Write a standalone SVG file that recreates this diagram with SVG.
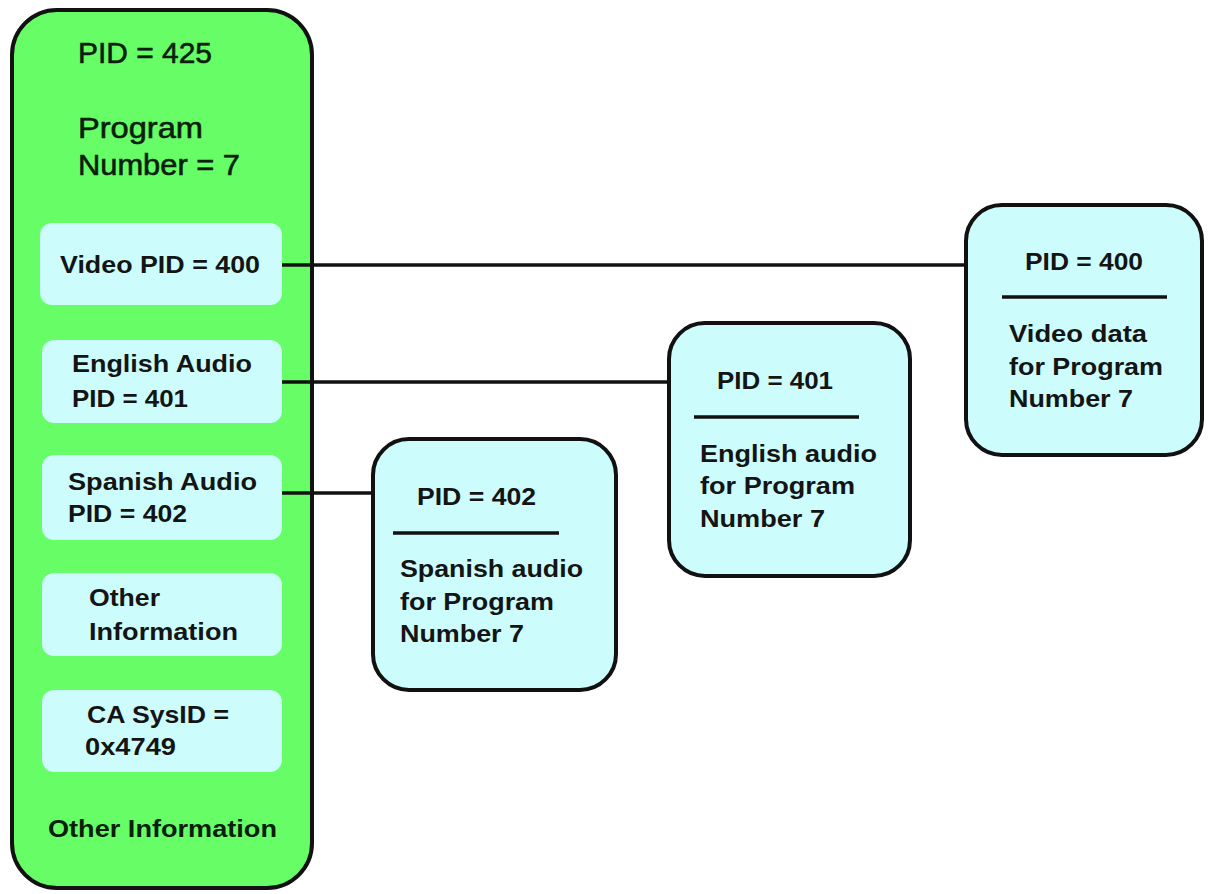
<svg xmlns="http://www.w3.org/2000/svg" width="1209" height="894" viewBox="0 0 1209 894">
<style>
.t{font-family:"Liberation Sans",Arial,sans-serif;fill:#141414}
.r{font-size:30px;font-weight:normal;fill:#0c1e0c;stroke:#0c1e0c;stroke-width:0.6}
.b{font-size:24px;font-weight:bold}
.cell{fill:#ccfdfc;stroke:none}
.box{fill:#ccfdfc;stroke:#111;stroke-width:4}
.rule{stroke:#111;stroke-width:3.5}
.conn{stroke:#111;stroke-width:3.5;fill:none}
</style>
<rect width="1209" height="894" fill="#ffffff"/>
<g id="pmt">
<rect x="12" y="10" width="300" height="878" rx="45" ry="45" fill="#66fd66" stroke="#111" stroke-width="4"/>
<text class="t r" x="78" y="63" textLength="134" lengthAdjust="spacingAndGlyphs">PID = 425</text>
<text class="t r" x="78" y="138" textLength="125" lengthAdjust="spacingAndGlyphs">Program</text>
<text class="t r" x="78" y="175" textLength="162" lengthAdjust="spacingAndGlyphs">Number = 7</text>
<text class="t b" x="48" y="837" textLength="229" lengthAdjust="spacingAndGlyphs" style="fill:#0c1e0c">Other Information</text>
</g>
<g id="cell-video">
<rect class="cell" x="40" y="223" width="242" height="82" rx="12"/>
<text class="t b" x="60" y="273" textLength="200" lengthAdjust="spacingAndGlyphs">Video PID = 400</text>
</g>
<g id="cell-english">
<rect class="cell" x="42" y="340" width="240" height="83" rx="12"/>
<text class="t b" x="72" y="372" textLength="180" lengthAdjust="spacingAndGlyphs">English Audio</text>
<text class="t b" x="72" y="407" textLength="116" lengthAdjust="spacingAndGlyphs">PID = 401</text>
</g>
<g id="cell-spanish">
<rect class="cell" x="42" y="455" width="240" height="85" rx="12"/>
<text class="t b" x="68" y="490" textLength="189" lengthAdjust="spacingAndGlyphs">Spanish Audio</text>
<text class="t b" x="68" y="522" textLength="119" lengthAdjust="spacingAndGlyphs">PID = 402</text>
</g>
<g id="cell-other">
<rect class="cell" x="42" y="573" width="240" height="83" rx="12"/>
<text class="t b" x="89" y="606" textLength="71" lengthAdjust="spacingAndGlyphs">Other</text>
<text class="t b" x="89" y="640" textLength="149" lengthAdjust="spacingAndGlyphs">Information</text>
</g>
<g id="cell-ca">
<rect class="cell" x="42" y="690" width="240" height="82" rx="12"/>
<text class="t b" x="87" y="723" textLength="142" lengthAdjust="spacingAndGlyphs">CA SysID =</text>
<text class="t b" x="85" y="755" textLength="91" lengthAdjust="spacingAndGlyphs">0x4749</text>
</g>
<g id="pid-400">
<rect class="box" x="966" y="205" width="236" height="250" rx="36"/>
<text class="t b" x="1025" y="270" textLength="118" lengthAdjust="spacingAndGlyphs">PID = 400</text>
<line class="rule" x1="1002" y1="297" x2="1167" y2="297"/>
<text class="t b" x="1009" y="342" textLength="138" lengthAdjust="spacingAndGlyphs">Video data</text>
<text class="t b" x="1009" y="375" textLength="154" lengthAdjust="spacingAndGlyphs">for Program</text>
<text class="t b" x="1009" y="407" textLength="124" lengthAdjust="spacingAndGlyphs">Number 7</text>
</g>
<g id="pid-401">
<rect class="box" x="669" y="323" width="241" height="253" rx="36"/>
<text class="t b" x="717" y="389" textLength="116" lengthAdjust="spacingAndGlyphs">PID = 401</text>
<line class="rule" x1="694" y1="417" x2="859" y2="417"/>
<text class="t b" x="700" y="462" textLength="177" lengthAdjust="spacingAndGlyphs">English audio</text>
<text class="t b" x="700" y="494" textLength="155" lengthAdjust="spacingAndGlyphs">for Program</text>
<text class="t b" x="700" y="527" textLength="125" lengthAdjust="spacingAndGlyphs">Number 7</text>
</g>
<g id="pid-402">
<rect class="box" x="373" y="439" width="243" height="251" rx="36"/>
<text class="t b" x="417" y="505" textLength="119" lengthAdjust="spacingAndGlyphs">PID = 402</text>
<line class="rule" x1="393" y1="533" x2="559" y2="533"/>
<text class="t b" x="400" y="577" textLength="183" lengthAdjust="spacingAndGlyphs">Spanish audio</text>
<text class="t b" x="400" y="610" textLength="154" lengthAdjust="spacingAndGlyphs">for Program</text>
<text class="t b" x="400" y="642" textLength="124" lengthAdjust="spacingAndGlyphs">Number 7</text>
</g>
<g id="connectors">
<line class="conn" x1="282" y1="265" x2="964" y2="265"/>
<line class="conn" x1="282" y1="382" x2="667" y2="382"/>
<line class="conn" x1="282" y1="493" x2="371" y2="493"/>
</g>
</svg>
